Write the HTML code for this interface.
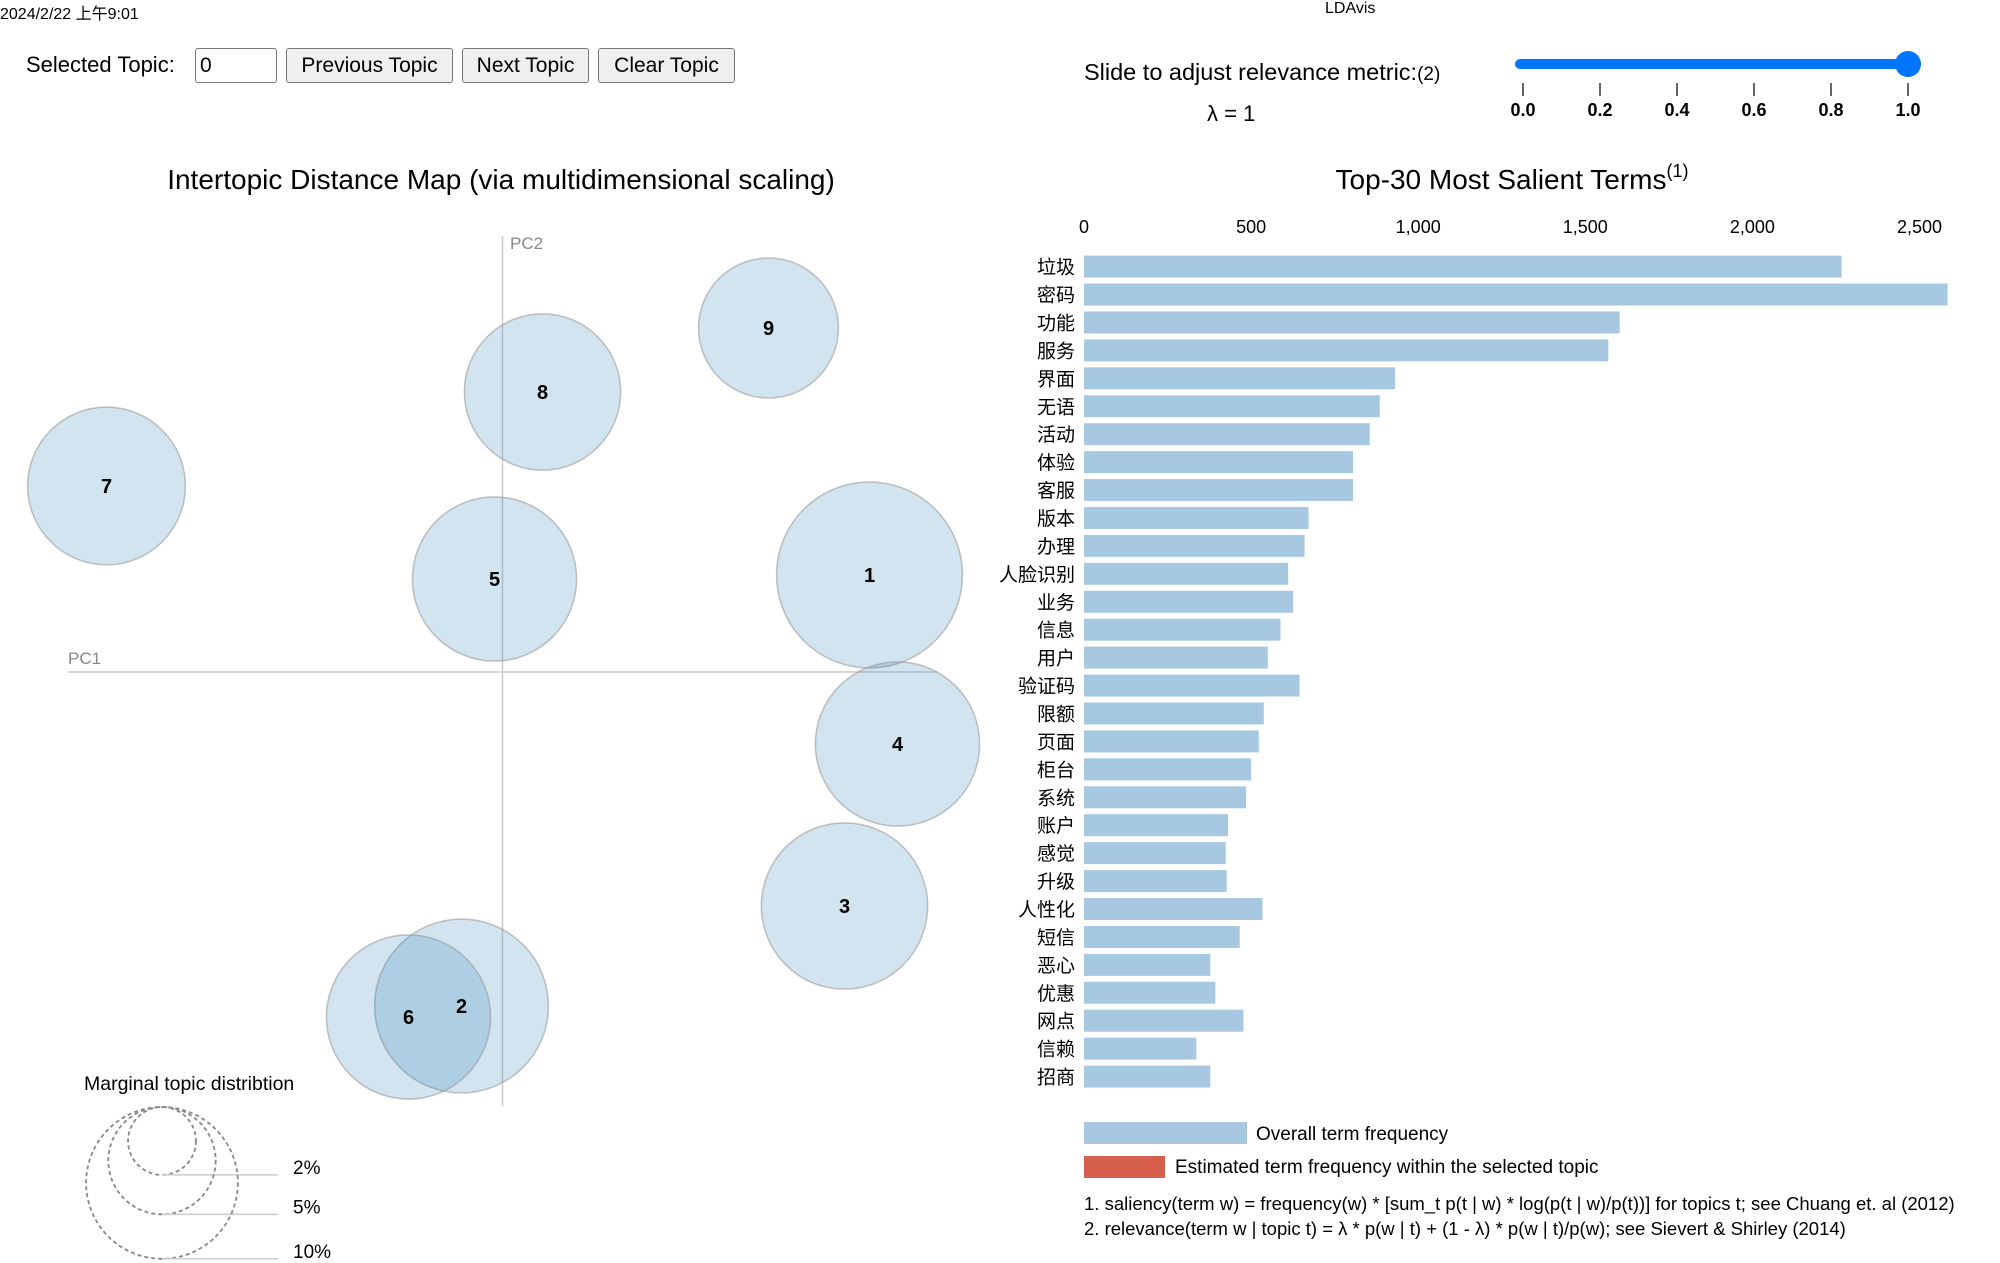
<!DOCTYPE html>
<html><head><meta charset="utf-8">
<style>
body{margin:0;width:2000px;height:1263px;overflow:hidden;background:#fff;font-family:"Liberation Sans","Noto Sans CJK SC",sans-serif;position:relative}
.abs{position:absolute;white-space:nowrap}
.btn{position:absolute;top:48px;height:35px;border:1px solid #767676;border-radius:3px;background:#efefef;font-size:21px;line-height:33px;text-align:center;box-sizing:border-box}
</style></head><body>
<div class="abs" style="left:0;top:0;font-size:16px">2024/2/22 上午9:01</div>
<div class="abs" style="left:1325px;top:0;font-size:16px">LDAvis</div>
<div class="abs" style="left:26px;top:52px;font-size:22px">Selected Topic:</div>
<div class="abs" style="left:195px;top:48px;width:82px;height:35px;border:1px solid #767676;border-radius:3px;box-sizing:border-box;font-size:21px;line-height:33px;padding-left:4px">0</div>
<div class="btn" style="left:286px;width:167px">Previous Topic</div>
<div class="btn" style="left:462px;width:127px">Next Topic</div>
<div class="btn" style="left:598px;width:137px">Clear Topic</div>
<div class="abs" style="left:1084px;top:59px;font-size:23.5px">Slide to adjust relevance metric:<span style="font-size:19px">(2)</span></div>
<div class="abs" style="left:1207px;top:101px;font-size:22px">λ = 1</div>
<svg width="2000" height="1263" style="position:absolute;left:0;top:0" id="svg">
<g>
<rect x="1515" y="59" width="393" height="10" rx="5" fill="#0075ff"/>
<circle cx="1908" cy="64" r="13" fill="#0075ff"/>
</g>
<g id="sliderTicks"></g>
<text x="501" y="189" text-anchor="middle" font-size="28" fill="#000">Intertopic Distance Map (via multidimensional scaling)</text>
<text x="1512" y="189" text-anchor="middle" font-size="28" fill="#000">Top-30 Most Salient Terms<tspan font-size="18" dy="-12">(1)</tspan></text>
<line x1="68" y1="672" x2="937" y2="672" stroke="#ccc" stroke-width="1.5"/>
<line x1="502.5" y1="236" x2="502.5" y2="1106" stroke="#ccc" stroke-width="1.5"/>
<text x="68" y="664" font-size="17" fill="#888">PC1</text>
<text x="510" y="249" font-size="17" fill="#888">PC2</text>
<g id="circles"></g>
<text x="84" y="1090" font-size="19.5">Marginal topic distribtion</text>
<g id="mlegend"></g>
<g id="bars"></g>
<rect x="1084" y="1122" width="163" height="22" fill="#a6c9e1"/>
<text x="1256" y="1140" font-size="19">Overall term frequency</text>
<rect x="1084" y="1156" width="81" height="22" fill="#d6604d"/>
<text x="1175" y="1173" font-size="19">Estimated term frequency within the selected topic</text>
<text x="1084" y="1210" font-size="18.5">1. saliency(term w) = frequency(w) * [sum_t p(t | w) * log(p(t | w)/p(t))] for topics t; see Chuang et. al (2012)</text>
<text x="1084" y="1235" font-size="18.5">2. relevance(term w | topic t) = λ * p(w | t) + (1 - λ) * p(w | t)/p(w); see Sievert &amp; Shirley (2014)</text>
</svg>
<script>
const topicIds=[9,8,7,5,1,4,3,2,6];
const topicX=[2.66,0.40,-3.96,-0.08,3.67,3.95,3.42,-0.41,-0.94];
const topicY=[3.44,2.80,1.86,0.93,0.97,-0.72,-2.34,-3.34,-3.45];
const topicPct=[8.5,10.6,10.8,11.7,15.0,11.7,12.0,13.1,11.7];
const legendPct=[2,5,10];
const terms=["垃圾","密码","功能","服务","界面","无语","活动","体验","客服","版本","办理","人脸识别","业务","信息","用户","验证码","限额","页面","柜台","系统","账户","感觉","升级","人性化","短信","恶心","优惠","网点","信赖","招商"];
const freqs=[2267,2584,1603,1569,931,885,855,805,805,672,660,611,626,588,550,645,538,523,500,485,431,424,427,534,466,378,393,477,336,378];
const xTicks=[0,500,1000,1500,2000,2500];
const sliderTicks=[0.0,0.2,0.4,0.6,0.8,1.0];
const NS="http://www.w3.org/2000/svg";
function mk(t,a,p){const e=document.createElementNS(NS,t);for(const k in a)e.setAttribute(k,a[k]);p.appendChild(e);return e;}
const px=v=>502.5+v*100, py=v=>672-v*100, rr=p=>24*Math.sqrt(p);
const sx=v=>1084+v*0.3342, sl=v=>1523+v*385;
const st=document.getElementById('sliderTicks');
sliderTicks.forEach(v=>{
 const l=mk('line',{x1:sl(v),x2:sl(v),y1:83,y2:96,stroke:'#000','stroke-width':1.2},st);
 
 
 const t=mk('text',{x:sl(v),y:116,'text-anchor':'middle','font-size':18,'font-weight':'bold'},st);
 t.textContent=v.toFixed(1);
 
 
});
const cg=document.getElementById('circles');
topicIds.forEach((id,i)=>{
 const c=mk('circle',{cx:px(topicX[i]),cy:py(topicY[i]),r:rr(topicPct[i]),fill:'#1f77b4','fill-opacity':0.2,stroke:'#999','stroke-opacity':0.6,'stroke-width':1.5},cg);
 
 
});
topicIds.forEach((id,i)=>{
 const t=mk('text',{x:px(topicX[i]),y:py(topicY[i])+7,'text-anchor':'middle','font-size':20,'font-weight':'bold'},cg);
 t.textContent=id;
 
 
});
const mg=document.getElementById('mlegend');
legendPct.forEach(p=>{
 const r=rr(p), top=1107, cy=top+r;
 const c=mk('circle',{cx:162,cy:cy,r:r,fill:'none',stroke:'#888','stroke-dasharray':'4,3','stroke-width':1.8},mg);
 
 
 const l=mk('line',{x1:162,x2:278,y1:cy+r,y2:cy+r,stroke:'#ccc','stroke-width':1.5},mg);
 
 
 const t=mk('text',{x:293,y:cy+r-1,'font-size':19},mg);
 t.textContent=p+'%';
 
 
});
const bg=document.getElementById('bars');
xTicks.forEach(v=>{
 const t=mk('text',{x:sx(v),y:233,'text-anchor':'middle','font-size':18},bg);
 t.textContent=v.toLocaleString('en-US');
 
 
});
terms.forEach((term,i)=>{
 const cy=266.6+i*27.93;
 const b=mk('rect',{x:1084,y:cy-11,width:sx(freqs[i])-1084,height:22,fill:'#a6c9e1'},bg);
 
 
 const t=mk('text',{x:1075,y:cy+7,'text-anchor':'end','font-size':19},bg);
 t.textContent=term;
 
 
});
</script>
</body></html>
